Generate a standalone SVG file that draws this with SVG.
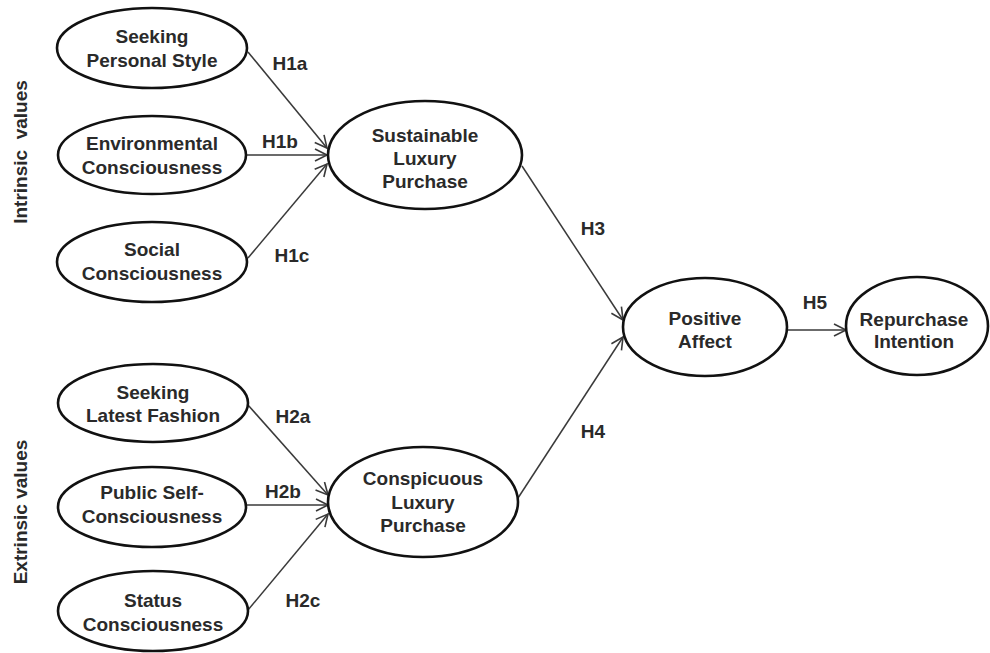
<svg xmlns="http://www.w3.org/2000/svg" width="990" height="653" viewBox="0 0 990 653">
  <style>
    .node ellipse { fill: #ffffff; stroke: #111111; stroke-width: 2.6; }
    .node text, .lbl, .side { font-family: "Liberation Sans", Arial, sans-serif; font-weight: bold; font-size: 19px; fill: #2a2a2a; text-anchor: middle; }
    .edge { stroke: #3a3a3a; stroke-width: 1.5; fill: none; marker-end: url(#arrow); }
  </style>
  <defs>
    <marker id="arrow" markerUnits="userSpaceOnUse" markerWidth="16" markerHeight="16" refX="13" refY="7" orient="auto">
      <path d="M1,1 L13,7 L1,13" fill="none" stroke="#3a3a3a" stroke-width="1.6"/>
    </marker>
  </defs>

  <rect width="990" height="653" fill="#ffffff"/>

  <!-- side group captions -->
  <text class="side" transform="translate(27,152) rotate(-90)" xml:space="preserve">Intrinsic  values</text>
  <text class="side" transform="translate(27,512) rotate(-90)">Extrinsic values</text>

  <!-- connectors -->
  <g id="connectors">
    <line class="edge" x1="248" y1="52" x2="327" y2="148"/>
    <line class="edge" x1="246" y1="155" x2="327" y2="155"/>
    <line class="edge" x1="248" y1="258" x2="327" y2="164"/>
    <line class="edge" x1="248" y1="405" x2="328" y2="495"/>
    <line class="edge" x1="246" y1="505" x2="328" y2="505"/>
    <line class="edge" x1="248" y1="610" x2="328" y2="514"/>
    <line class="edge" x1="522" y1="166" x2="623" y2="320"/>
    <line class="edge" x1="518" y1="498" x2="623" y2="337"/>
    <line class="edge" x1="787" y1="330" x2="846" y2="330"/>
    <text class="lbl" x="290" y="70">H1a</text>
    <text class="lbl" x="280" y="148">H1b</text>
    <text class="lbl" x="292" y="262">H1c</text>
    <text class="lbl" x="293" y="423">H2a</text>
    <text class="lbl" x="283" y="498">H2b</text>
    <text class="lbl" x="303" y="607">H2c</text>
    <text class="lbl" x="593" y="235">H3</text>
    <text class="lbl" x="593" y="438">H4</text>
    <text class="lbl" x="815" y="309">H5</text>
  </g>

  <g id="seeking-personal-style" class="node">
    <ellipse cx="152" cy="48" rx="95" ry="40"/>
    <text x="152" y="43">Seeking</text>
    <text x="152" y="67">Personal Style</text>
  </g>
  <g id="environmental-consciousness" class="node">
    <ellipse cx="152" cy="155" rx="94" ry="39"/>
    <text x="152" y="150">Environmental</text>
    <text x="152" y="174">Consciousness</text>
  </g>
  <g id="social-consciousness" class="node">
    <ellipse cx="152" cy="262" rx="95" ry="40"/>
    <text x="152" y="256">Social</text>
    <text x="152" y="280">Consciousness</text>
  </g>
  <g id="sustainable-luxury-purchase" class="node">
    <ellipse cx="425" cy="155" rx="97" ry="54"/>
    <text x="425" y="142">Sustainable</text>
    <text x="425" y="165">Luxury</text>
    <text x="425" y="188">Purchase</text>
  </g>
  <g id="positive-affect" class="node">
    <ellipse cx="705" cy="327" rx="82" ry="49"/>
    <text x="705" y="325">Positive</text>
    <text x="705" y="348">Affect</text>
  </g>
  <g id="repurchase-intention" class="node">
    <ellipse cx="917" cy="326" rx="71" ry="49"/>
    <text x="914" y="326">Repurchase</text>
    <text x="914" y="348">Intention</text>
  </g>
  <g id="seeking-latest-fashion" class="node">
    <ellipse cx="153" cy="403" rx="95" ry="39"/>
    <text x="153" y="399">Seeking</text>
    <text x="153" y="422">Latest Fashion</text>
  </g>
  <g id="public-self-consciousness" class="node">
    <ellipse cx="152" cy="507" rx="94" ry="40"/>
    <text x="152" y="499">Public Self-</text>
    <text x="152" y="523">Consciousness</text>
  </g>
  <g id="status-consciousness" class="node">
    <ellipse cx="153" cy="611" rx="95" ry="40"/>
    <text x="153" y="607">Status</text>
    <text x="153" y="631">Consciousness</text>
  </g>
  <g id="conspicuous-luxury-purchase" class="node">
    <ellipse cx="423" cy="502" rx="95" ry="55"/>
    <text x="423" y="485">Conspicuous</text>
    <text x="423" y="509">Luxury</text>
    <text x="423" y="532">Purchase</text>
  </g>
</svg>
